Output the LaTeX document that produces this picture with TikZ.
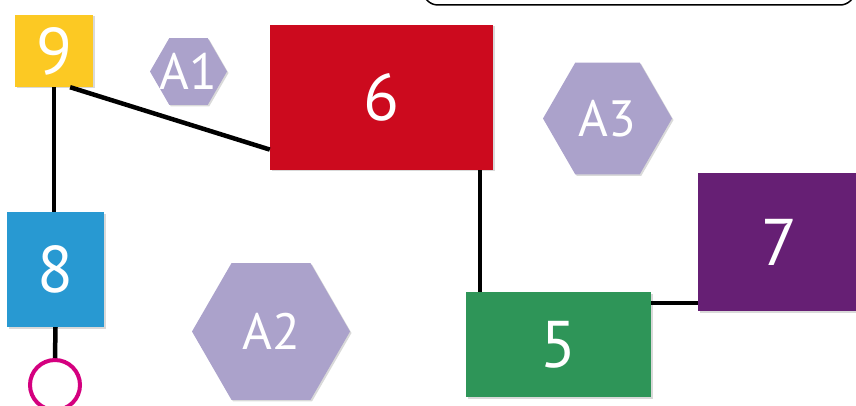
\documentclass[tikz,border=0pt]{standalone}
\usepackage{fontspec}
\setmainfont{PT Sans}
\usetikzlibrary{positioning}
\usetikzlibrary{shapes,shadows}

\definecolor{gold}{HTML}{FCC923}
\definecolor{crimson}{HTML}{CC0A1E}
\definecolor{sky}{HTML}{2899D2}
\definecolor{plum}{HTML}{661F74}
\definecolor{jade}{HTML}{2E9558}
\definecolor{lilac}{HTML}{ABA2CB}
\definecolor{rose}{HTML}{D4007F}

\tikzset{
  box/.style={rectangle,inner sep=0pt,text=white,
    font=\fontsize{66}{66}\selectfont,
    drop shadow={shadow xshift=1.5pt,shadow yshift=-1.5pt,opacity=.3}},
  hex/.style={regular polygon,regular polygon sides=6,inner sep=0pt,
    fill=lilac,text=white,font=\fontsize{51}{51}\selectfont,
    drop shadow={shadow xshift=1.5pt,shadow yshift=-1.5pt,opacity=.3}},
  link/.style={line width=4.5pt}
}

\begin{document}
\begin{tikzpicture}[x=1pt,y=-1pt]
\useasboundingbox (0,0) rectangle (856,406);
\node (banner) [draw,line width=1.5pt,rounded corners=15pt,minimum width=432pt,
  minimum height=60pt] at (639,-25) {};
\node (n9) [box,fill=gold,minimum width=78pt,minimum height=72pt] at (54,51) {9};
\node (n6) [box,fill=crimson,minimum width=223pt,minimum height=145pt] at (381.5,97.5) {6};
\node (n8) [box,fill=sky,minimum width=97pt,minimum height=115pt] at (55.5,269.5) {8};
\node (n5) [box,fill=jade,minimum width=185pt,minimum height=105pt] at (558.5,344.5) {5};
\node (n7) [box,fill=plum,minimum width=162pt,minimum height=138pt] at (779,242) {7};
\node (a1) [hex,inner sep=-12pt,minimum size=77pt] at (188.5,71.5) {A1};
\node (a3) [hex,minimum size=129pt] at (607.5,118.5) {A3};
\node (a2) [hex,minimum size=158pt] at (271,331.5) {A2};
\node (ring) [circle,draw=rose,line width=4pt,minimum size=50pt,inner sep=0pt] at (55,385) {};

\draw[link] (n9.-66) -- (n6.205);
\draw[link] (n9.south) -- (n9.south |- n8.north);
\draw[link] (n8.south) -- (ring.north);
\draw[link] ([xshift=-13pt]n6.south east) -- ([xshift=-13pt]n6.south east |- n5.north);
\draw[link] ([yshift=-61pt]n7.west) -- ([yshift=-61pt]n7.west -| n5.east);
\end{tikzpicture}
\end{document}
